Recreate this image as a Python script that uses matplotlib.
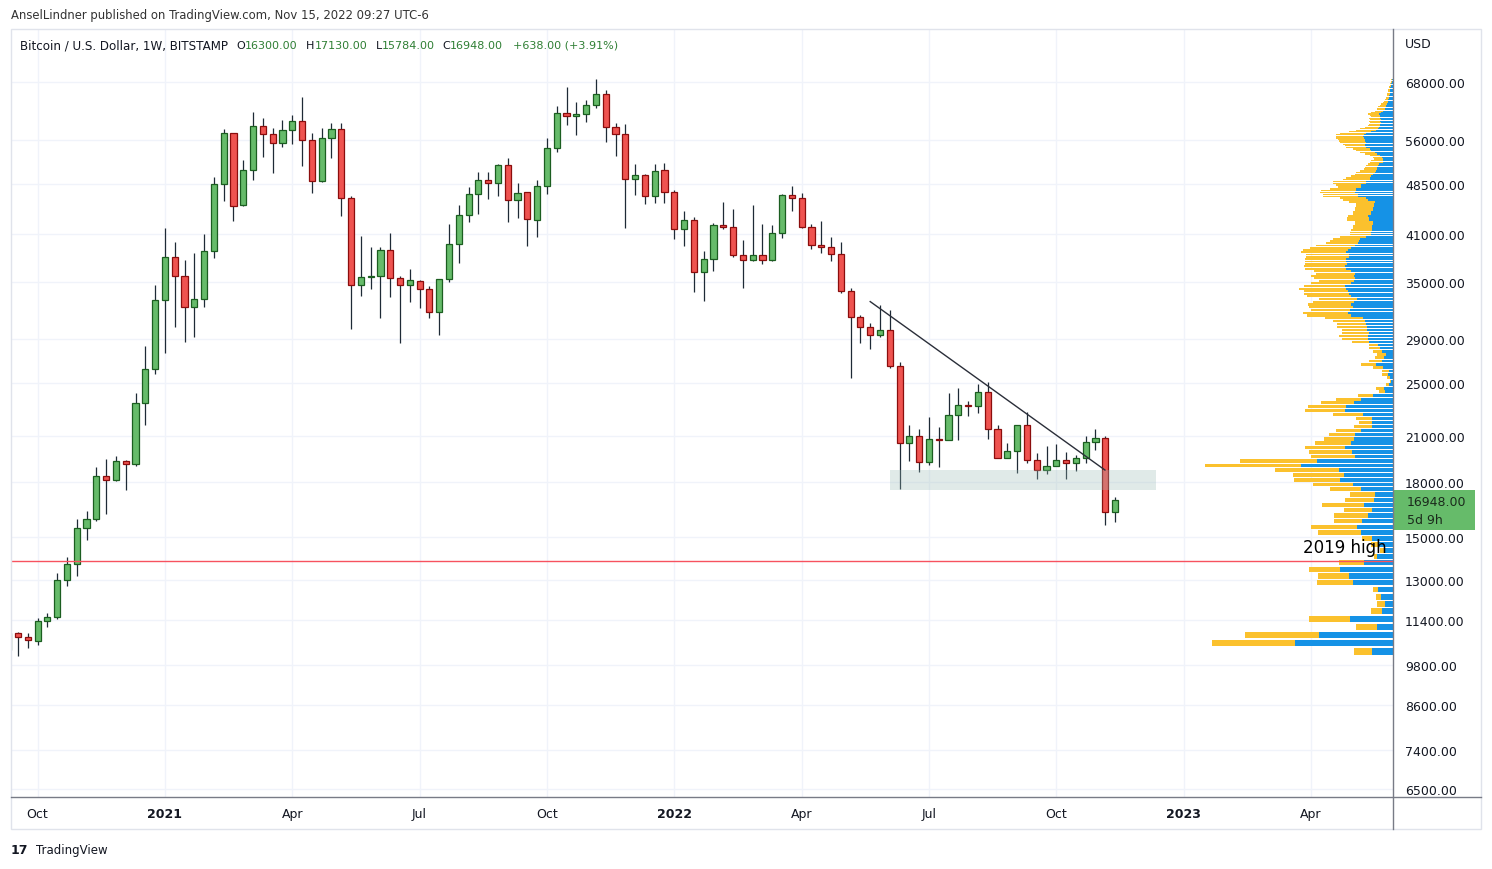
import numpy as np
import pandas as pd
import matplotlib
matplotlib.use("Agg")
import matplotlib.pyplot as plt
import matplotlib.dates as mdates
from matplotlib.patches import Rectangle
from matplotlib.lines import Line2D

plt.rcParams['font.family'] = ['DejaVu Sans']

# weekly BTCUSD candles (Bitstamp), first bar = week of 2020-09-14
first_week = "2020-09-14"
opens = [10330, 10920, 10780, 10620, 11350, 11500, 13000, 13720, 15450, 15920,
         18370, 18130, 19300, 19110, 23400, 26200, 32940, 38000, 35670, 32190,
         33050, 38770, 48420, 57350, 45150, 50720, 58700, 57200, 55480, 57920,
         59690, 56030, 48900, 56410, 58120, 46220, 34630, 35560, 35670, 38890,
         35440, 34630, 35090, 34170, 31650, 35320, 39670, 43680, 46840, 49060,
         48580, 51570, 45910, 47160, 42960, 48100, 54560, 61290, 60680, 61080,
         62940, 65280, 58510, 57160, 49230, 49880, 46530, 50720, 47160, 41700,
         42960, 36150, 37750, 42260, 41980, 38250, 37620, 38250, 37620, 41150,
         46680, 46220, 42070, 39540, 39280, 38390, 33940, 31140, 30120, 29330,
         29840, 26460, 20490, 20970, 19240, 20760, 20690, 22490, 23240, 23170,
         24270, 21470, 19500, 19950, 21750, 19360, 18740, 18990, 19360, 19170,
         19500, 20560, 20830, 16300]
highs = [11100, 10950, 10910, 11480, 11680, 13320, 14050, 15930, 16380, 18930,
         19450, 19660, 19390, 24200, 28310, 34630, 41880, 39980, 37620, 38580,
         41000, 49550, 58170, 57410, 52480, 61550, 60340, 58370, 59940, 60940,
         64700, 57410, 58370, 59340, 59340, 46570, 40740, 39270, 39270, 41230,
         35670, 36520, 35200, 34510, 35320, 42480, 45250, 47990, 50390, 50390,
         51730, 52780, 48580, 47160, 49060, 56410, 62730, 66810, 63570, 63990,
         68610, 66150, 59340, 59140, 51730, 50050, 51730, 51910, 47460, 44270,
         43390, 38760, 42540, 45610, 44560, 40240, 45200, 42480, 42300, 46890,
         48090, 47000, 42400, 42870, 40610, 39940, 34300, 31400, 30520, 32460,
         31860, 26800, 21790, 21470, 22340, 21610, 24190, 24600, 23560, 24920,
         25080, 21790, 20490, 21800, 22710, 19820, 20290, 20420, 19890, 19690,
         20970, 21470, 20970, 17130]
lows = [10250, 10120, 10380, 10500, 11130, 11430, 12770, 13210, 14860, 15850,
        16220, 18100, 17570, 19000, 21790, 25820, 27680, 30180, 28710, 29120,
        32250, 37940, 45850, 42910, 45010, 49160, 53070, 50320, 54860, 55410,
        51500, 46960, 48740, 52880, 43620, 29980, 33380, 34170, 31030, 33270,
        28560, 32720, 32080, 31030, 29330, 35000, 37250, 42770, 43910, 46160,
        46530, 42770, 43340, 39490, 40690, 46840, 53840, 58900, 57000, 59490,
        62310, 55660, 53250, 41920, 46770, 45400, 45560, 45560, 40420, 39490,
        33900, 32900, 36270, 41700, 37990, 34290, 37500, 37130, 37500, 40490,
        44270, 41840, 39100, 38500, 37520, 33710, 25430, 28560, 28000, 29200,
        26300, 17590, 19300, 18610, 19050, 18920, 20690, 20700, 22410, 22640,
        20760, 19500, 19500, 18550, 19200, 18180, 18490, 18990, 18180, 18670,
        19170, 20020, 15600, 15784]
closes = [10920, 10780, 10670, 11350, 11500, 13000, 13720, 15450, 15920, 18370,
          18130, 19300, 19110, 23400, 26200, 32940, 38000, 35670, 32190, 33050,
          38770, 48420, 57350, 45010, 50720, 58700, 57200, 55480, 57920, 59690,
          56030, 48900, 56410, 58120, 46220, 34630, 35560, 35670, 38890, 35440,
          34630, 35200, 34170, 31650, 35320, 39670, 43680, 46840, 49060, 48580,
          51570, 45910, 47000, 43100, 48100, 54560, 61290, 60680, 61080, 62940,
          65280, 58510, 57160, 49230, 49880, 46530, 50550, 47160, 41700, 42960,
          36150, 37750, 42260, 41980, 38250, 37620, 38250, 37620, 41150, 46680,
          46220, 42070, 39540, 39280, 38390, 33940, 31140, 30120, 29330, 29840,
          26460, 20490, 20970, 19240, 20760, 20690, 22490, 23240, 23170, 24270,
          21470, 19500, 19950, 21750, 19360, 18740, 18990, 19360, 19170, 19500,
          20560, 20830, 16300, 16948]

price_ticks = [6500, 7400, 8600, 9800, 11400, 13000, 15000, 18000, 21000,
               25000, 29000, 35000, 41000, 48500, 56000, 68000]
time_ticks = ["2020-10-05", "2021-01-04", "2021-04-05", "2021-07-05", "2021-10-04",
              "2022-01-03", "2022-04-04", "2022-07-04", "2022-10-03", "2023-01-02",
              "2023-04-03"]
time_labels = ["Oct", "2021", "Apr", "Jul", "Oct", "2022", "Apr", "Jul", "Oct",
               "2023", "Apr"]

high_2019 = 13870
trend_dates = ["2022-05-23 00:00", "2022-11-06 18:00"]
trend_prices = [32800, 18750]
zone_dates = ["2022-06-06", "2022-12-13"]
zone_prices = [17550, 18750]
change_text = "+638.00 (+3.91%)"
time_left = "5d 9h"

# visible range volume profile: 200 rows from vp_low, lengths read in px
vp_low = 10120
vp_step = 292.45
vp_total = [39, 181, 148, 37, 84, 22, 16, 17, 20, 76, 75, 84, 54, 19, 13, 22, 31, 75, 82, 59,
            59, 49, 71, 48, 43, 63, 80, 99, 100, 118, 188, 153, 82, 84, 88, 78, 69, 64, 57, 39,
            34, 37, 60, 88, 85, 72, 57, 35, 14, 17, 7, 3, 6, 11, 11, 20, 32, 24, 18, 16,
            20, 24, 24, 41, 51, 54, 51, 51, 56, 56, 60, 68, 86, 90, 82, 84, 85, 80, 74, 86,
            89, 89, 94, 89, 82, 74, 79, 82, 77, 79, 88, 89, 88, 88, 88, 87, 87, 92, 90, 83,
            77, 67, 63, 60, 53, 43, 43, 42, 40, 40, 38, 38, 46, 46, 45, 40, 40, 38, 38, 37,
            37, 44, 50, 53, 70, 70, 73, 72, 63, 55, 57, 60, 60, 50, 47, 42, 38, 37, 33, 29,
            28, 27, 25, 23, 22, 19, 20, 23, 28, 33, 37, 40, 47, 48, 50, 53, 54, 55, 57, 57,
            57, 53, 44, 37, 33, 28, 25, 24, 23, 24, 23, 24, 22, 23, 25, 22, 18, 16, 16, 15,
            13, 12, 10, 9, 8, 7, 7, 6, 6, 6, 5, 5, 5, 4, 4, 3, 3, 2, 2, 2]
vp_up = [21, 98, 74, 16, 43, 11, 8, 12, 15, 40, 44, 53, 29, 16, 8, 14, 21, 32, 36, 31,
         25, 21, 29, 19, 18, 32, 40, 53, 49, 54, 92, 76, 38, 41, 48, 42, 39, 38, 32, 21,
         21, 21, 30, 48, 47, 39, 32, 20, 8, 9, 4, 2, 3, 5, 4, 10, 17, 11, 9, 7,
         11, 13, 15, 24, 25, 25, 24, 26, 26, 27, 28, 30, 42, 45, 43, 40, 42, 39, 36, 42,
         44, 45, 47, 48, 42, 39, 38, 39, 38, 42, 47, 48, 46, 47, 47, 44, 44, 47, 45, 42,
         38, 35, 34, 33, 27, 22, 22, 21, 21, 21, 20, 20, 24, 24, 25, 22, 22, 20, 20, 19,
         19, 18, 25, 27, 35, 35, 38, 37, 37, 32, 32, 27, 27, 23, 23, 22, 20, 18, 17, 16,
         16, 15, 14, 10, 10, 10, 11, 13, 16, 18, 22, 23, 27, 28, 28, 27, 28, 28, 29, 30,
         29, 27, 22, 17, 15, 14, 13, 13, 12, 13, 12, 13, 13, 13, 14, 12, 10, 8, 8, 7,
         7, 6, 5, 5, 5, 4, 4, 4, 3, 3, 3, 3, 3, 3, 2, 2, 2, 1, 1, 1]

W, H = 1492, 870
TEXT = '#131722'
GREEN_TXT = '#2f7f34'


def fx(px):
    return px / W


def fy(py):
    return 1 - py / H


fig = plt.figure(figsize=(W / 100, H / 100), dpi=100)
fig.patch.set_facecolor('white')

# chart frame
fig.add_artist(Rectangle((fx(11), fy(830)), fx(1481) - fx(11), fy(30) - fy(830),
                         transform=fig.transFigure, fill=False, edgecolor='#e0e3eb', lw=1))

rect = [fx(11), fy(798), fx(1393) - fx(11), fy(30) - fy(798)]
ax = fig.add_axes(rect)
for s in ax.spines.values():
    s.set_visible(False)

dates = pd.date_range(first_week, periods=len(opens), freq="7D")
x = mdates.date2num(dates)
o, h, l, c = (np.array(v, dtype=float) for v in (opens, highs, lows, closes))
up = c >= o
lo = np.minimum(o, c)
hi = np.maximum(np.maximum(o, c), lo * 1.004)

ax.vlines(x, l, h, color='#1e2a36', lw=0.9, zorder=2)
ax.bar(x[up], (hi - lo)[up], bottom=lo[up], width=4.4, color='#66bb6a',
       edgecolor='#1b5e20', lw=0.9, zorder=3)
ax.bar(x[~up], (hi - lo)[~up], bottom=lo[~up], width=4.4, color='#ef5350',
       edgecolor='#8b0d0d', lw=0.9, zorder=3)

zd = mdates.date2num(pd.to_datetime(zone_dates))
ax.add_patch(Rectangle((zd[0], zone_prices[0]), zd[1] - zd[0], zone_prices[1] - zone_prices[0],
                       facecolor='#9bbcb6', alpha=0.3, lw=0, zorder=4))
td = mdates.date2num(pd.to_datetime(trend_dates))
ax.plot(td, trend_prices, color='#2a2e39', lw=1.0, zorder=5)

ax.set_yscale('log')
ylim = (6332, 81080)
ax.set_ylim(*ylim)
x0 = mdates.date2num(pd.Timestamp("2020-09-21"))
ax.set_xlim(x0 - 5.0, x0 + 982.6)

ax.set_yticks(price_ticks, labels=[f"{v:.2f}" for v in price_ticks])
ax.minorticks_off()
ax.yaxis.tick_right()
ax.tick_params(axis='y', length=0, pad=8.6, labelsize=9, labelcolor=TEXT)
ax.set_xticks(mdates.date2num(pd.to_datetime(time_ticks)), labels=time_labels)
ax.tick_params(axis='x', length=0, pad=7, labelsize=9, labelcolor=TEXT)
for lab in ax.get_xticklabels():
    if lab.get_text().isdigit():
        lab.set_fontweight('bold')
ax.grid(True, color='#f0f3fa', lw=1)
ax.set_axisbelow(True)

# volume profile overlay, bars grow leftwards from the price axis
pax = fig.add_axes(rect)
pax.set_yscale('log')
pax.set_ylim(*ylim)
pax.set_xlim(1393 - 11, 0)
pax.axis('off')
pax.patch.set_alpha(0)
rows = vp_low + vp_step * np.arange(len(vp_total)) + vp_step * 0.1
pax.barh(rows, vp_total, height=vp_step * 0.8, align='edge', color='#fbc12d', lw=0)
pax.barh(rows, vp_up, height=vp_step * 0.8, align='edge', color='#1592e6', lw=0)

pax.axhline(high_2019, color='#f7525f', lw=1, zorder=5)
pax.text(1393 - 1303, 14500, "2019 high", ha='left', va='center', fontsize=12,
         color='black', zorder=6)

# time axis line and price axis line
fig.add_artist(Line2D([fx(11), fx(1481)], [fy(798), fy(798)], transform=fig.transFigure,
                      color='#787b86', lw=1))
fig.add_artist(Line2D([fx(1393), fx(1393)], [fy(30), fy(830)], transform=fig.transFigure,
                      color='#787b86', lw=1))

# price axis extras
fig.text(fx(1405), fy(45), "USD", ha='left', va='center', fontsize=9, color=TEXT)
fig.add_artist(Rectangle((fx(1394), fy(531)), fx(1475) - fx(1394), fy(491) - fy(531),
                         transform=fig.transFigure, facecolor='#66bb6a', edgecolor='none'))
fig.text(fx(1407), fy(503), f"{closes[-1]:.2f}", ha='left', va='center', fontsize=9, color='#1b2a1c')
fig.text(fx(1407), fy(520), time_left, ha='left', va='center', fontsize=9, color='#1b2a1c')

# header and legend
fig.text(fx(11), fy(16), "AnselLindner published on TradingView.com, Nov 15, 2022 09:27 UTC-6",
         ha='left', va='center', fontsize=8.4, color='#333333')
fig.text(fx(20), fy(46), "Bitcoin / U.S. Dollar, 1W, BITSTAMP", ha='left', va='center',
         fontsize=8.6, color=TEXT)
fig.canvas.draw()
renderer = fig.canvas.get_renderer()
for letter, val, px in [("O", opens[-1], 236), ("H", highs[-1], 306),
                        ("L", lows[-1], 376), ("C", closes[-1], 442)]:
    t = fig.text(fx(px), fy(46), letter, ha='left', va='center', fontsize=8, color=TEXT)
    bb = t.get_window_extent(renderer=renderer)
    fig.text(bb.x1 / W, fy(46), f"{val:.2f}", ha='left', va='center', fontsize=8, color=GREEN_TXT)
fig.text(fx(513), fy(46), change_text, ha='left', va='center', fontsize=8, color=GREEN_TXT)

# footer logo
fig.text(fx(11), fy(851), "17", ha='left', va='center', fontsize=9, fontweight='bold', color=TEXT)
fig.text(fx(36), fy(851), "TradingView", ha='left', va='center', fontsize=8.5, color=TEXT)

fig.savefig("out.png", dpi=100, facecolor='white')
